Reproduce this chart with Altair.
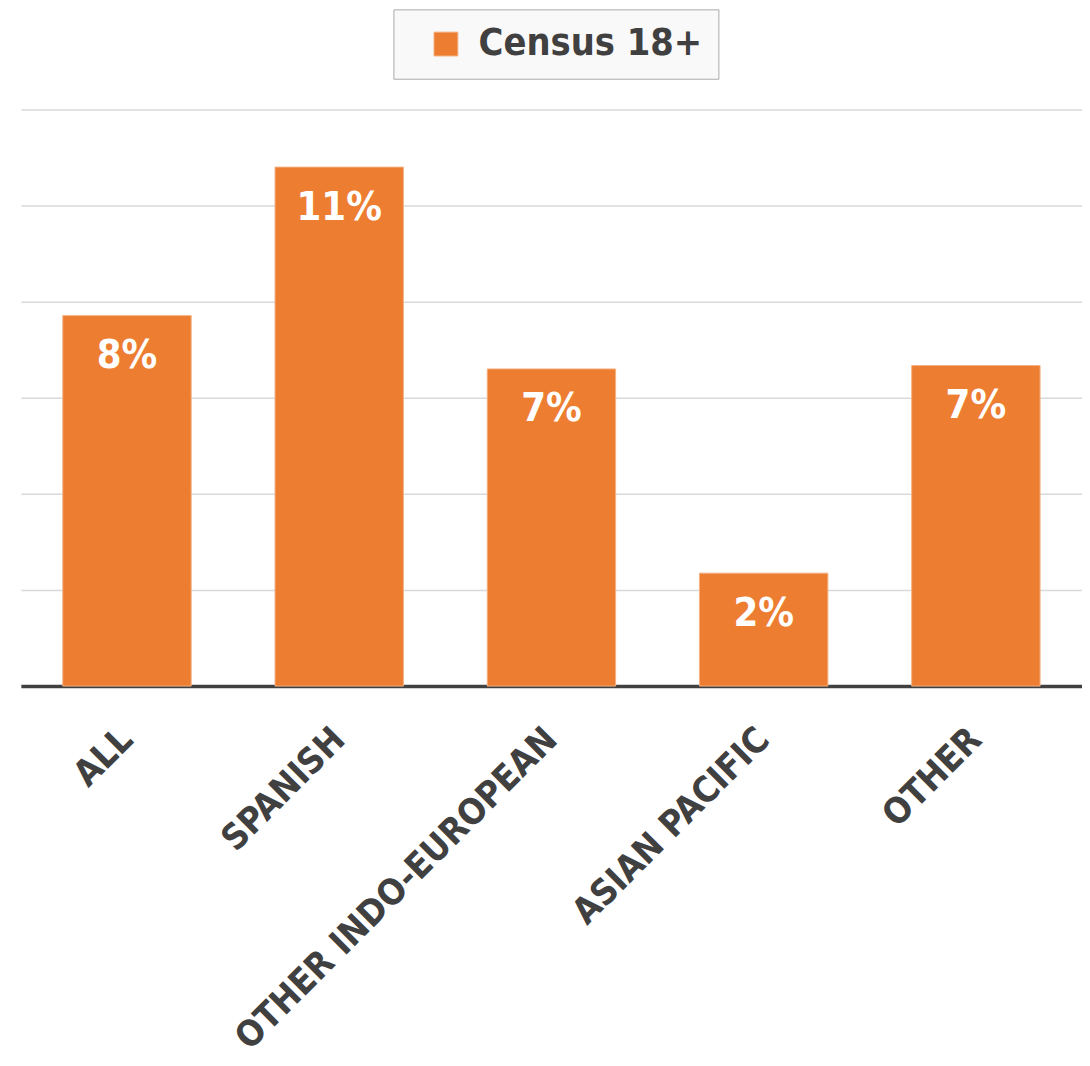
import altair as alt
import pandas as pd

categories = ["ALL", "SPANISH", "OTHER INDO-EUROPEAN", "ASIAN PACIFIC", "OTHER"]
values = [0.0771, 0.1080, 0.0660, 0.0235, 0.0667]
series = ["Census 18+"] * 5
y_ticks = [0, 0.02, 0.04, 0.06, 0.08, 0.10, 0.12]

df = pd.DataFrame({"cat": categories, "value": values, "series": series})

FONT = "DejaVu Sans Condensed, Liberation Sans Narrow, Roboto, sans-serif"
ORANGE = "#ED7D31"
DARK = "#404040"

x_enc = alt.X(
    "cat:N",
    sort=categories,
    scale=alt.Scale(paddingInner=0.395, paddingOuter=0.1975),
    axis=alt.Axis(
        title=None,
        labelAngle=-45,
        labelAlign="right",
        labelBaseline="middle",
        labelPadding=48,
        labelFont=FONT,
        labelFontSize=36,
        labelFontWeight="bold",
        labelColor=DARK,
        ticks=False,
        domainColor=DARK,
        domainWidth=3.5,
        grid=False,
        labelLimit=1000,
    ),
)

y_enc = alt.Y(
    "value:Q",
    scale=alt.Scale(domain=[0, 0.12], nice=False),
    axis=alt.Axis(
        title=None,
        values=y_ticks,
        labels=False,
        ticks=False,
        domain=False,
        grid=True,
        gridColor="#d9d9d9",
        gridWidth=1.5,
    ),
)

bars = alt.Chart(df).mark_bar(stroke="#F4B183", strokeWidth=1).encode(
    x=x_enc,
    y=y_enc,
    color=alt.Color(
        "series:N",
        scale=alt.Scale(range=[ORANGE]),
        legend=alt.Legend(
            title=None,
            orient="none",
            legendX=376,
            legendY=-101,
            fillColor="#f9f9f9",
            strokeColor="#aaaaaa",
            padding=16,
            symbolType="square",
            symbolSize=580,
            symbolStrokeColor="#F4B183",
            symbolStrokeWidth=1,
            symbolOffset=18,
            labelFont=FONT,
            labelFontSize=38,
            labelFontWeight="bold",
            labelColor=DARK,
            labelOffset=14,
            labelLimit=1000,
            labelExpr="datum.label + '\u00a0'",
        ),
    ),
)

labels = alt.Chart(df).mark_text(
    dy=41,
    baseline="middle",
    align="center",
    color="white",
    font=FONT,
    fontSize=40,
    fontWeight="bold",
).encode(
    x=alt.X("cat:N", sort=categories),
    y=alt.Y("value:Q"),
    text=alt.Text("value:Q", format=".0%"),
)

chart = (
    alt.layer(bars, labels)
    .properties(
        width=1071,
        height=582,
        autosize=alt.AutoSizeParams(type="none"),
        padding={"left": 13, "top": 97.5, "right": 0, "bottom": 370},
        background="white",
    )
    .configure_view(stroke=None)
)

chart.save("out.html", embed_options={"renderer": "svg", "actions": False})
